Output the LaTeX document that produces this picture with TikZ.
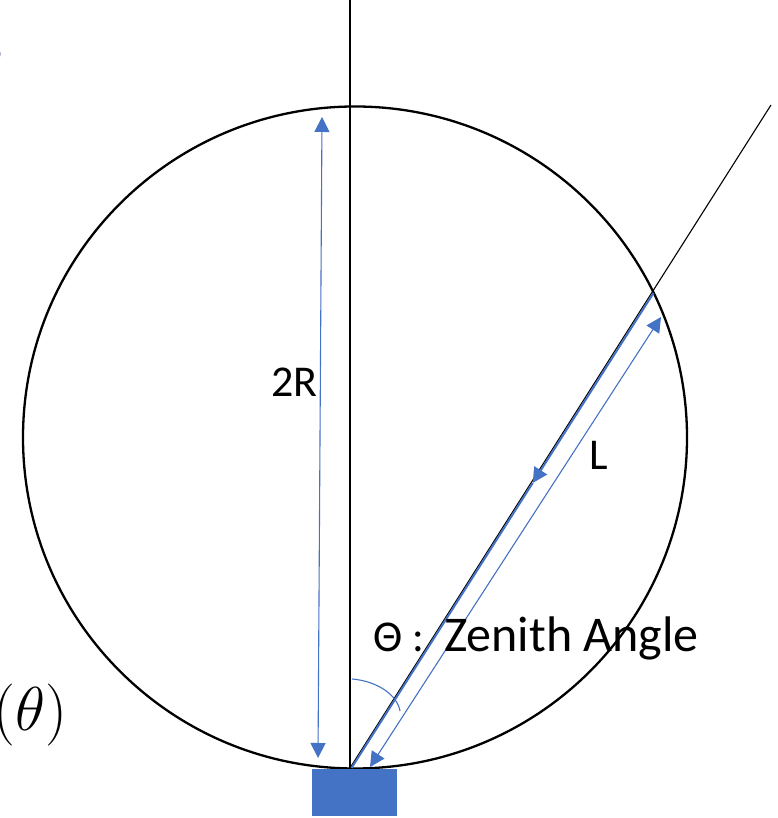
\documentclass[tikz,border=0pt]{standalone}
\usepackage{fix-cm}
\usepackage[no-math]{fontspec}
\setmainfont{Carlito}
\usetikzlibrary{arrows.meta,calc}
\definecolor{officeblue}{HTML}{4472C4}
\begin{document}
\begin{tikzpicture}[x=1pt, y=1pt,
  % Line styles
  sphere/.style={draw=black, line width=2.3pt},
  ray/.style={draw=black, line width=1.1pt},
  measure/.style={draw=officeblue, line width=1.1pt,
    {Triangle[length=15pt,width=15pt]}-{Triangle[length=15pt,width=15pt]}},
  track/.style={draw=officeblue, line width=2pt},
  % Label style
  lbl/.style={font=\fontsize{44}{50}\selectfont, text=black, inner sep=0pt},
  cut/.style={font=\fontsize{62}{66}\selectfont, inner sep=0pt},
]
\useasboundingbox (0,0) rectangle (777,818);

% Reference points
\coordinate (det) at (350,50);
\coordinate (zen) at (350,818);
\coordinate (far) at (771,713);
\coordinate (hit) at (652,525);
\coordinate (mid) at ($(hit)!0.4!(det)$);

% Clipped formula pieces at the left edge
\node[cut, anchor=base east] (cosf) at (68,87) {$\cos(\theta)$};
\node[cut, anchor=base east, text=black!70!blue] (vf) at (4,740) {$v$};

% --- Sphere and lines of sight ---
\draw[sphere] (355,380.5) ellipse [x radius=332, y radius=331];
\draw[ray] (det) -- (zen);
\draw[ray] (det) -- (far);

% --- Track through the sphere ---
\draw[track, -{Triangle[length=15pt,width=15pt]}] ([xshift=1.5pt]hit) -- ([xshift=1.5pt]mid);
\draw[track] ([xshift=1.5pt]mid) -- ([xshift=1.5pt]det);

% --- Dimensions ---
\coordinate (dbot) at (318,60);
\coordinate (dtop) at (322,701);
\draw[measure] (dbot) -- (dtop);
\node[lbl] (twor) at (294.5,436) {2R};

\coordinate (lbot) at (370,51);
\coordinate (ltop) at (661,501);
\draw[measure] (lbot) -- (ltop);
\node[lbl] (len) at (599,363) {L};

% Zenith angle
\draw[officeblue, line width=1.1pt] (352,139) .. controls (376,137) and (397,124) .. (400,107);
\node[lbl, anchor=base west] (zlbl) at (373,166)
  {Θ :\hspace{20pt}{\fontsize{50}{56}\selectfont Zenith Angle}};

% Detector
\node[fill=officeblue, minimum width=85pt, minimum height=47pt, inner sep=0pt,
  anchor=south west] (box) at (312,2) {};

\end{tikzpicture}
\end{document}
